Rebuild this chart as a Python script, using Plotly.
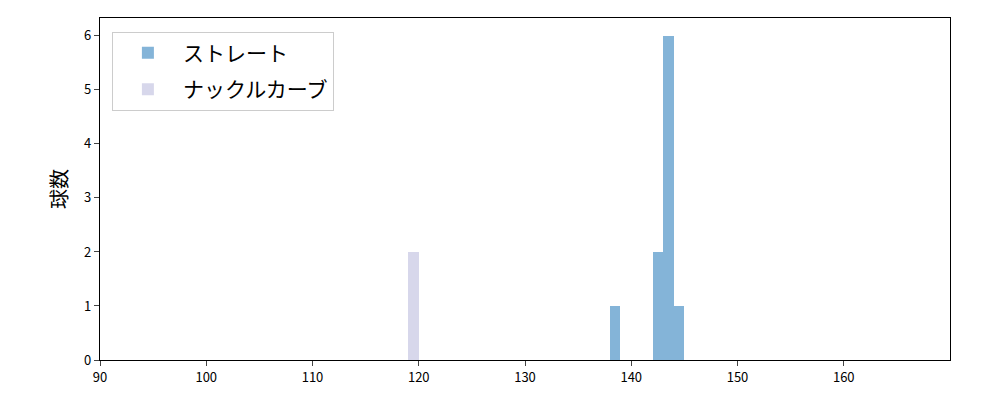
import plotly.graph_objects as go

# bin centers and counts
straight_x = [138.5, 142.5, 143.5, 144.5]
straight_y = [1, 2, 6, 1]
knuckle_x = [119.5]
knuckle_y = [2]

x_ticks = [90, 100, 110, 120, 130, 140, 150, 160]
y_ticks = [0, 1, 2, 3, 4, 5, 6]

fig = go.Figure()
fig.add_trace(go.Bar(x=straight_x, y=straight_y, width=0.97, name='ストレート',
                     legendgroup='a',
                     marker=dict(color='#84b4d8', line=dict(width=0))))
fig.add_trace(go.Bar(x=knuckle_x, y=knuckle_y, width=1.0, name='ナックルカーブ',
                     legendgroup='b',
                     marker=dict(color='#d7d7eb', line=dict(width=0))))

# page has an 8px body offset, margins compensate for it
fig.update_layout(
    width=1000, height=400,
    margin=dict(l=92, r=58, t=10, b=48),
    plot_bgcolor='white', paper_bgcolor='white',
    font=dict(family='Noto Sans CJK JP', size=12, color='black'),
    barmode='overlay', bargap=0,
    showlegend=True,
    legend=dict(x=0.014, y=0.96, xanchor='left', yanchor='top',
                bgcolor='white', bordercolor='#cccccc', borderwidth=1,
                font=dict(size=21), itemwidth=60, tracegroupgap=6),
)
fig.update_xaxes(range=[90, 170], tickvals=x_ticks, ticks='outside', ticklen=5,
                 tickfont=dict(size=13),
                 showline=True, linecolor='black', linewidth=1.2, mirror=True,
                 showgrid=False, zeroline=False, automargin=False)
fig.update_yaxes(range=[0, 6.33], tickvals=y_ticks, ticks='outside', ticklen=5,
                 tickfont=dict(size=13),
                 showline=True, linecolor='black', linewidth=1.2, mirror=True,
                 showgrid=False, zeroline=False, automargin=False,
                 title=dict(text='球数', font=dict(size=20), standoff=11))

fig.write_html("out.html")
